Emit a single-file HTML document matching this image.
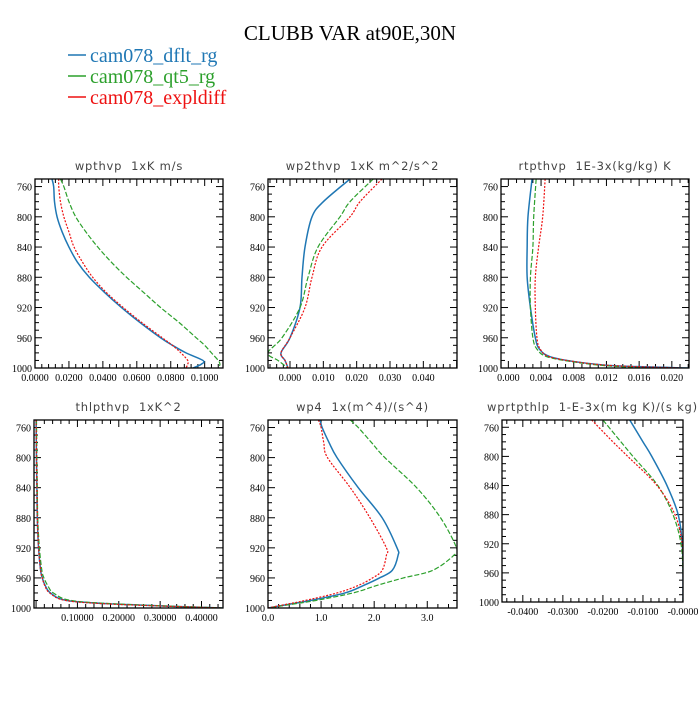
<!DOCTYPE html>
<html><head><meta charset="utf-8"><style>
body{margin:0;background:#fff;}
svg text{font-family:"Liberation Serif",serif;}
.pt{font-family:"DejaVu Sans","Liberation Sans",sans-serif;font-size:11.5px;fill:#444;letter-spacing:0.8px;white-space:pre;}
</style></head><body>
<svg id="c" width="700" height="700" xmlns="http://www.w3.org/2000/svg">
<text x="350" y="40" text-anchor="middle" font-size="21">CLUBB VAR at90E,30N</text>
<g>
<line x1="68" y1="55" x2="86" y2="55" stroke="#1f77b4" stroke-width="1.5"/>
<text x="90" y="62" font-size="20" fill="#1f77b4">cam078_dflt_rg</text>
<line x1="68" y1="76" x2="86" y2="76" stroke="#2ca02c" stroke-width="1.5"/>
<text x="90" y="83" font-size="20" fill="#2ca02c">cam078_qt5_rg</text>
<line x1="68" y1="97" x2="86" y2="97" stroke="#ee1111" stroke-width="1.5"/>
<text x="90" y="104" font-size="20" fill="#ee1111">cam078_expldiff</text>
</g>
</svg>
<script>
// Panel 1 wpthvp
const p1Levels=[750,760,780,800,820,840,860,880,900,920,940,960,970,980,990,995,1000];
const p1Blue=[0.010,0.011,0.0115,0.013,0.016,0.020,0.025,0.032,0.041,0.051,0.062,0.074,0.081,0.089,0.099,0.098,0.093];
const p1Green=[0.015,0.017,0.020,0.024,0.030,0.037,0.045,0.054,0.064,0.074,0.085,0.095,0.100,0.104,0.108,0.109,0.108];
const p1Red=[0.014,0.014,0.015,0.017,0.020,0.023,0.028,0.034,0.042,0.052,0.063,0.075,0.081,0.086,0.090,0.090,0.089];
const p1Ticks=["0.0000","0.0200","0.0400","0.0600","0.0800","0.1000"];
// Panel 2 wp2thvp
const p2Levels=[750,780,800,840,880,920,960,980,990,1000];
const p2Blue=[0.018,0.010,0.0066,0.0045,0.0036,0.003,0.0,-0.0027,-0.0015,-0.0006];
const p2Green=[0.025,0.018,0.015,0.0084,0.0054,0.003,-0.0024,-0.0066,-0.0036,-0.0006];
const p2Red=[0.0276,0.021,0.018,0.0096,0.0066,0.0045,0.0,-0.0027,-0.0015,-0.0006];
const p2Ticks=["0.000","0.010","0.020","0.030","0.040"];
// Panel 3 rtpthvp
const p3Levels=[750,800,840,880,920,960,975,985,992,997,1000];
const p3Blue=[0.0029,0.0024,0.0023,0.0023,0.0027,0.0033,0.0038,0.0051,0.0084,0.013,0.022];
const p3Green=[0.0034,0.0031,0.0030,0.0027,0.0027,0.0030,0.0035,0.0047,0.008,0.012,0.0173];
const p3Red=[0.0045,0.0042,0.0037,0.0033,0.0033,0.0035,0.0039,0.005,0.0084,0.013,0.0213];
const p3Ticks=["0.000","0.004","0.008","0.012","0.016","0.020"];
// Panel 4 thlpthvp
const p4Levels=[750,800,840,880,920,950,960,970,980,990,995,1000];
const p4Blue=[0.0,0.001,0.002,0.003,0.006,0.011,0.015,0.022,0.035,0.075,0.2,0.45];
const p4Green=[0.001,0.002,0.003,0.004,0.008,0.014,0.019,0.028,0.042,0.085,0.21,0.45];
const p4Red=[0.0,0.001,0.002,0.003,0.006,0.011,0.015,0.021,0.033,0.072,0.19,0.45];
const p4Ticks=["0.10000","0.20000","0.30000","0.40000"];
// Panel 5 wp4
const p5Levels=[750,760,780,800,840,880,920,930,950,960,970,980,990,995,1000];
const p5Blue=[0.98,1.02,1.15,1.3,1.7,2.15,2.43,2.45,2.34,2.1,1.8,1.45,0.8,0.4,0.0];
const p5Green=[1.55,1.7,1.95,2.2,2.8,3.25,3.55,3.5,3.1,2.55,2.05,1.6,0.9,0.45,0.0];
const p5Red=[0.95,1.0,1.05,1.12,1.55,1.92,2.23,2.23,2.15,1.97,1.7,1.3,0.7,0.35,0.0];
const p5Ticks=["0.0","1.0","2.0","3.0"];
// Panel 6 wprtpthlp
const p6Levels=[750,780,800,840,880,920,960,1000];
const p6Blue=[-0.0133,-0.0100,-0.0078,-0.004,-0.0012,-0.0002,0,0];
const p6Green=[-0.020,-0.0155,-0.0125,-0.0063,-0.0025,-0.0005,0,0];
const p6Red=[-0.0228,-0.0175,-0.0138,-0.0065,-0.002,-0.0002,0,0];
const p6Ticks=["-0.0400","-0.0300","-0.0200","-0.0100","-0.0000"];

const NS="http://www.w3.org/2000/svg";
const svg=document.getElementById('c');
function mk(tag,attrs,parent){const e=document.createElementNS(NS,tag);for(const k in attrs)e.setAttribute(k,attrs[k]);(parent||svg).appendChild(e);return e;}
function smooth(pts){
  let d='M'+pts[0][0].toFixed(2)+','+pts[0][1].toFixed(2);
  for(let i=0;i<pts.length-1;i++){
    const p0=pts[Math.max(0,i-1)],p1=pts[i],p2=pts[i+1],p3=pts[Math.min(pts.length-1,i+2)];
    const c1=[p1[0]+(p2[0]-p0[0])/6,p1[1]+(p2[1]-p0[1])/6];
    const c2=[p2[0]-(p3[0]-p1[0])/6,p2[1]-(p3[1]-p1[1])/6];
    d+=' C'+c1[0].toFixed(2)+','+c1[1].toFixed(2)+' '+c2[0].toFixed(2)+','+c2[1].toFixed(2)+' '+p2[0].toFixed(2)+','+p2[1].toFixed(2);
  }
  return d;
}
function panel(o){
  const g=mk('g',{});
  
  
  const L=o.box[0],T=o.box[1],R=o.box[2],B=o.box[3];
  const xs=v=>L+(v-o.xmin)/(o.xmax-o.xmin)*(R-L);
  const ys=p=>T+(p-750)/(1000-750)*(B-T);
  const t=mk('text',{x:(L+R)/2,y:T-9,'text-anchor':'middle',class:'pt'},g);
  t.textContent=o.title;
  
  
  for(let p=760;p<=1000;p+=10){
    const y=ys(p);const maj=(p-760)%40===0;const len=maj?7:4;
    mk('line',{x1:L,y1:y,x2:L+len,y2:y,stroke:'#000','stroke-width':1},g);
    mk('line',{x1:R,y1:y,x2:R-len,y2:y,stroke:'#000','stroke-width':1},g);
    if(maj){const tl=mk('text',{x:L-3,y:y+4,'text-anchor':'end','font-size':10},g);tl.textContent=p;
      
      }
  }
  const tv=o.ticks.map(Number);
  const step=tv.length>1?tv[1]-tv[0]:1;
  const ms=step/o.minor;
  const start=Math.ceil((o.xmin-1e-9)/ms);
  for(let i=start;i*ms<=o.xmax+1e-9;i++){
    const v=i*ms;const x=xs(v);
    const maj=Math.abs(Math.round(i/o.minor)*o.minor-i)<1e-6;const len=maj?7:4;
    mk('line',{x1:x,y1:B,x2:x,y2:B-len,stroke:'#000','stroke-width':1},g);
    mk('line',{x1:x,y1:T,x2:x,y2:T+len,stroke:'#000','stroke-width':1},g);
  }
  o.ticks.forEach(s=>{const tl=mk('text',{x:xs(Number(s)),y:B+13,'text-anchor':'middle','font-size':10},g);tl.textContent=s;
    
    });
  const clipId='clip'+o.name;
  const cp=mk('clipPath',{id:clipId},g);mk('rect',{x:L,y:T,width:R-L,height:B-T},cp);
  o.series.forEach(s=>{
    const pts=s.vals.map((v,i)=>[xs(v),ys(o.levels[i])]);
    const pa=mk('path',{d:smooth(pts),fill:'none',stroke:s.color,'stroke-width':s.w,'stroke-dasharray':s.dash,'clip-path':'url(#'+clipId+')'},g);
    
    
  });
  const fr=mk('rect',{x:L,y:T,width:R-L,height:B-T,fill:'none',stroke:'#000','stroke-width':1.3},g);
  
  
}
function ser(b,gr,r){return[{id:'dflt',vals:b,color:'#1f77b4',w:1.5,dash:'none'},{id:'qt5',vals:gr,color:'#2ca02c',w:1.2,dash:'5,2'},{id:'expldiff',vals:r,color:'#ee1111',w:1.2,dash:'2,1.5'}];}
panel({name:'wpthvp',title:'wpthvp  1xK m/s',box:[35,179,223,368],xmin:0,xmax:0.1108,ticks:p1Ticks,minor:5,levels:p1Levels,series:ser(p1Blue,p1Green,p1Red)});
panel({name:'wp2thvp',title:'wp2thvp  1xK m^2/s^2',box:[268,179,457,368],xmin:-0.0066,xmax:0.0501,ticks:p2Ticks,minor:5,levels:p2Levels,series:ser(p2Blue,p2Green,p2Red)});
panel({name:'rtpthvp',title:'rtpthvp  1E-3x(kg/kg) K',box:[501,179,689,368],xmin:-0.0009,xmax:0.0221,ticks:p3Ticks,minor:4,levels:p3Levels,series:ser(p3Blue,p3Green,p3Red)});
panel({name:'thlpthvp',title:'thlpthvp  1xK^2',box:[34,420,223,608],xmin:-0.005,xmax:0.452,ticks:p4Ticks,minor:5,levels:p4Levels,series:ser(p4Blue,p4Green,p4Red)});
panel({name:'wp4',title:'wp4  1x(m^4)/(s^4)',box:[268,420,457,608],xmin:0,xmax:3.56,ticks:p5Ticks,minor:5,levels:p5Levels,series:ser(p5Blue,p5Green,p5Red)});
panel({name:'wprtpthlp',title:'wprtpthlp  1-E-3x(m kg K)/(s kg)',box:[502,420,683,602],xmin:-0.0452,xmax:0,ticks:p6Ticks,minor:5,levels:p6Levels,series:ser(p6Blue,p6Green,p6Red)});
</script>
</body></html>
